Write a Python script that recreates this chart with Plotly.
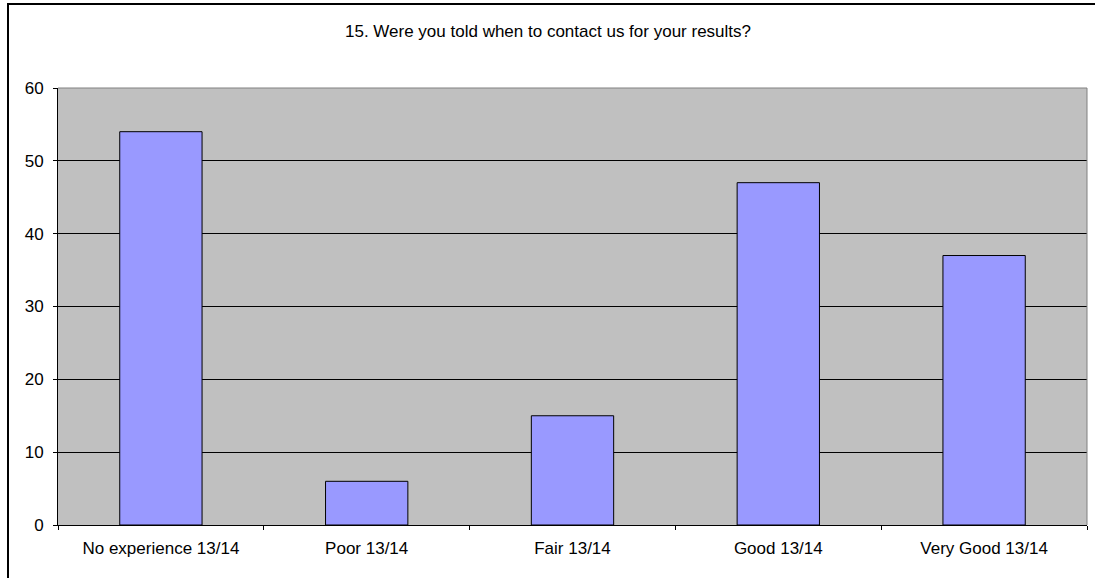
import plotly.graph_objects as go

categories = ["No experience 13/14", "Poor 13/14", "Fair 13/14", "Good 13/14", "Very Good 13/14"]
values = [54, 6, 15, 47, 37]
y_ticks = [0, 10, 20, 30, 40, 50, 60]
title_text = "15. Were you told when to contact us for your results?"

W, H = 1095, 578
L, R, T, B = 58, 8, 88, 53

positions = list(range(len(categories)))
boundaries = [p - 0.5 for p in positions] + [positions[-1] + 0.5]

fig = go.Figure()
fig.add_trace(go.Bar(
    x=positions, y=values,
    marker=dict(color="#9999FF", line=dict(color="#000000", width=1)),
    width=0.4,
    hoverinfo="skip",
))
# invisible trace to carry the boundary tick axis
fig.add_trace(go.Scatter(x=[boundaries[0], boundaries[-1]], y=[0, 0], xaxis="x2",
                         mode="markers", marker=dict(opacity=0), hoverinfo="skip",
                         showlegend=False))

font = dict(family="Liberation Sans, Arial, sans-serif", size=17, color="#000000")

fig.update_layout(
    width=W, height=H,
    margin=dict(l=L, r=R, t=T, b=B, pad=0),
    paper_bgcolor="#FFFFFF",
    plot_bgcolor="#C0C0C0",
    showlegend=False,
    font=font,
    title=dict(text=title_text, x=548 / W, xanchor="center", y=1 - 31 / H, yanchor="middle",
               font=font),
    xaxis=dict(
        range=[-0.5, len(categories) - 0.5],
        tickvals=positions, ticktext=categories,
        ticks="", showgrid=False, zeroline=False,
        showline=True, linecolor="#000000", linewidth=1,
        tickfont=font, ticklabelstandoff=8,
    ),
    xaxis2=dict(
        overlaying="x", side="bottom", anchor="y",
        range=[-0.5, len(categories) - 0.5],
        tickvals=boundaries, ticktext=[""] * len(boundaries),
        ticks="outside", ticklen=4, tickcolor="#000000", tickwidth=1,
        showgrid=False, zeroline=False, showline=False,
    ),
    yaxis=dict(
        range=[0, 60], tickvals=y_ticks,
        ticks="outside", ticklen=4, tickcolor="#000000",
        showgrid=True, gridcolor="#000000", gridwidth=1,
        zeroline=False, showline=True, linecolor="#000000", linewidth=1,
        mirror=False, tickfont=font, ticklabelstandoff=6,
    ),
    shapes=[
        # grey frame on top and right of plot area
        dict(type="line", xref="paper", yref="paper", x0=0, x1=1, y0=1, y1=1,
             line=dict(color="#808080", width=1), layer="above"),
        dict(type="line", xref="paper", yref="paper", x0=1, x1=1, y0=0, y1=1,
             line=dict(color="#808080", width=1), layer="above"),
    ],
)

# outer chart border (left and top edges) as a page overlay; no scrollbars
page_frame = (
    "document.documentElement.style.overflow='hidden';"
    "document.body.style.overflow='hidden';"
    "var f=document.createElement('div');"
    "f.style.cssText='position:absolute;left:7px;top:3px;width:1200px;height:700px;"
    "border-left:2px solid #000;border-top:2px solid #000;pointer-events:none;';"
    "document.body.appendChild(f);"
)

fig.write_html("out.html", config={"displayModeBar": False}, post_script=page_frame)
